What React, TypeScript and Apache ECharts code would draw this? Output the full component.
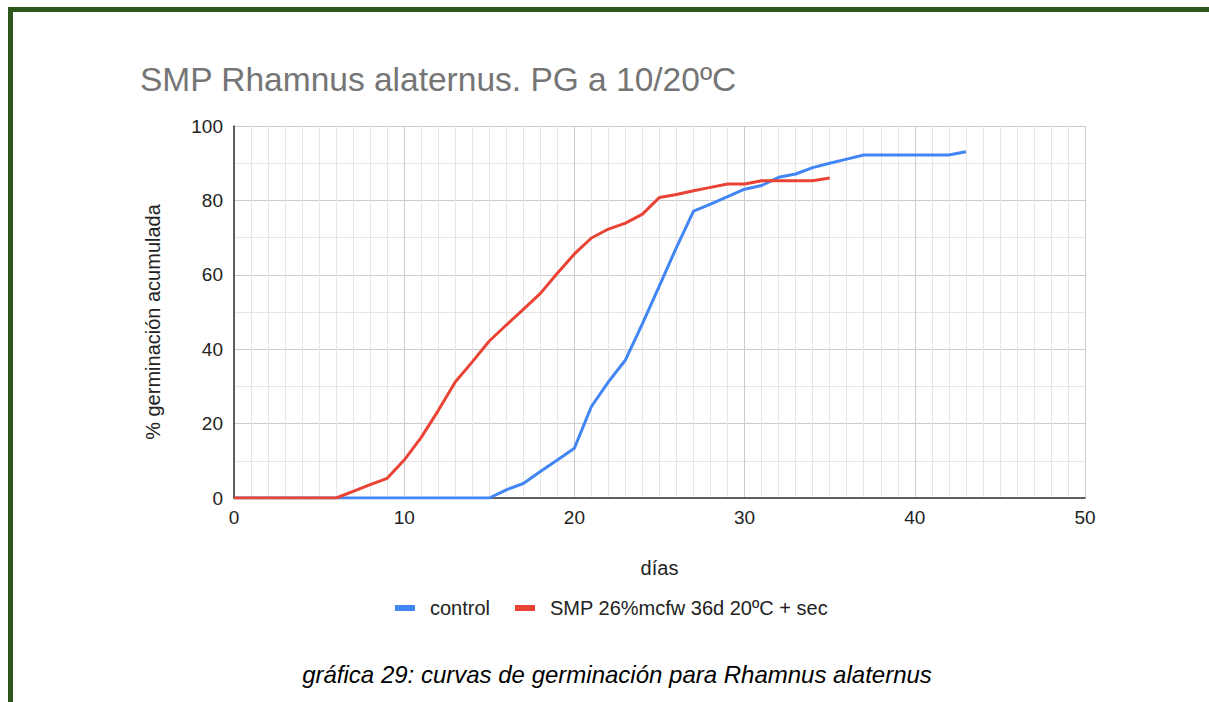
import React, { useEffect, useRef } from "react";
import * as echarts from "echarts";

const controlDays = [0,1,2,3,4,5,6,7,8,9,10,11,12,13,14,15,16,17,18,19,20,21,22,23,24,25,26,27,28,29,30,31,32,33,34,35,36,37,38,39,40,41,42,43];
const controlValues = [0,0,0,0,0,0,0,0,0,0,0,0,0,0,0,0,2.2,3.9,7.1,10.2,13.4,24.6,31.2,37.1,46.9,57.1,67.4,77.1,79.0,81.0,83.0,84.0,86.2,87.1,88.8,90.0,91.1,92.2,92.2,92.2,92.2,92.2,92.2,93.1];

const smpDays = [0,1,2,3,4,5,6,7,8,9,10,11,12,13,14,15,16,17,18,19,20,21,22,23,24,25,26,27,28,29,30,31,32,33,34,35];
const smpValues = [0,0,0,0,0,0,0,1.8,3.6,5.3,10.2,16.3,23.5,31.2,36.6,42.2,46.5,50.7,55.0,60.4,65.6,69.9,72.3,73.9,76.3,80.8,81.6,82.6,83.5,84.4,84.4,85.3,85.3,85.3,85.3,86.0];

const seriesNames = ["control", "SMP 26%mcfw 36d 20ºC + sec"];
const seriesColors = ["#4285f4", "#ea4335"];

const titleText = "SMP Rhamnus alaternus. PG a 10/20ºC";
const xAxisName = "días";
const yAxisName = "% germinación acumulada";
const captionText = "gráfica 29: curvas de germinación para Rhamnus alaternus";

const FONT = "'Liberation Sans', Arial, sans-serif";

export default function App() {
  const ref = useRef<HTMLDivElement>(null);

  useEffect(() => {
    if (!ref.current) return;
    const chart = echarts.init(ref.current, undefined, { renderer: "svg" });
    const pairs = (xs: number[], ys: number[]) => xs.map((x, i) => [x, ys[i]]);
    chart.setOption({
      animation: false,
      backgroundColor: "#ffffff",
      textStyle: { fontFamily: FONT },
      title: {
        text: titleText,
        left: 140,
        top: 62,
        padding: 0,
        textStyle: { fontFamily: FONT, fontSize: 33.5, fontWeight: "normal", color: "#757575" },
      },
      legend: {
        left: 395,
        top: 598,
        padding: 0,
        icon: "rect",
        itemWidth: 20,
        itemHeight: 6,
        itemGap: 25,
        data: seriesNames,
        textStyle: { fontFamily: FONT, fontSize: 20, color: "#222222", padding: [0, 0, 0, 10] },
      },
      grid: { left: 234, right: 124, top: 126, bottom: 204, containLabel: false },
      xAxis: {
        type: "value",
        min: 0,
        max: 50,
        interval: 10,
        name: xAxisName,
        nameLocation: "middle",
        nameGap: 60,
        nameTextStyle: { fontFamily: FONT, fontSize: 20, color: "#222222" },
        axisLine: { show: true, lineStyle: { color: "#333333", width: 1.5 } },
        axisTick: { show: false },
        axisLabel: { fontFamily: FONT, fontSize: 19, color: "#222222", margin: 10 },
        splitLine: { show: true, lineStyle: { color: "#cccccc", width: 1 } },
        minorTick: { show: false, splitNumber: 10 },
        minorSplitLine: { show: true, lineStyle: { color: "#e6e6e6", width: 1 } },
      },
      yAxis: {
        type: "value",
        min: 0,
        max: 100,
        interval: 20,
        name: yAxisName,
        nameLocation: "middle",
        nameGap: 71,
        nameTextStyle: { fontFamily: FONT, fontSize: 20, color: "#222222", padding: [0, 20, 0, 0] },
        axisLine: { show: true, lineStyle: { color: "#333333", width: 1.5 } },
        axisTick: { show: false },
        axisLabel: { fontFamily: FONT, fontSize: 19, color: "#222222", margin: 11 },
        splitLine: { show: true, lineStyle: { color: "#cccccc", width: 1 } },
        minorTick: { show: false, splitNumber: 2 },
        minorSplitLine: { show: true, lineStyle: { color: "#e6e6e6", width: 1 } },
      },
      series: [
        {
          name: seriesNames[0],
          type: "line",
          data: pairs(controlDays, controlValues),
          showSymbol: false,
          symbol: "none",
          color: seriesColors[0],
          lineStyle: { color: seriesColors[0], width: 3 },
        },
        {
          name: seriesNames[1],
          type: "line",
          data: pairs(smpDays, smpValues),
          showSymbol: false,
          symbol: "none",
          color: seriesColors[1],
          lineStyle: { color: seriesColors[1], width: 3 },
        },
      ],
      graphic: [
        { type: "rect", shape: { x: 8, y: 7, width: 1201, height: 5 }, style: { fill: "#2c561b" }, silent: true },
        { type: "rect", shape: { x: 8, y: 7, width: 5, height: 695 }, style: { fill: "#2c561b" }, silent: true },
        {
          type: "text",
          x: 617,
          y: 674,
          style: {
            text: captionText,
            fontFamily: FONT,
            fontSize: 24,
            fontStyle: "italic",
            fill: "#000000",
            textAlign: "center",
            textVerticalAlign: "middle",
          },
        },
      ],
    });
    return () => chart.dispose();
  }, []);

  return (
    <div
      ref={ref}
      style={{ position: "fixed", left: 0, top: 0, width: 1209, height: 702, background: "#ffffff" }}
    />
  );
}
